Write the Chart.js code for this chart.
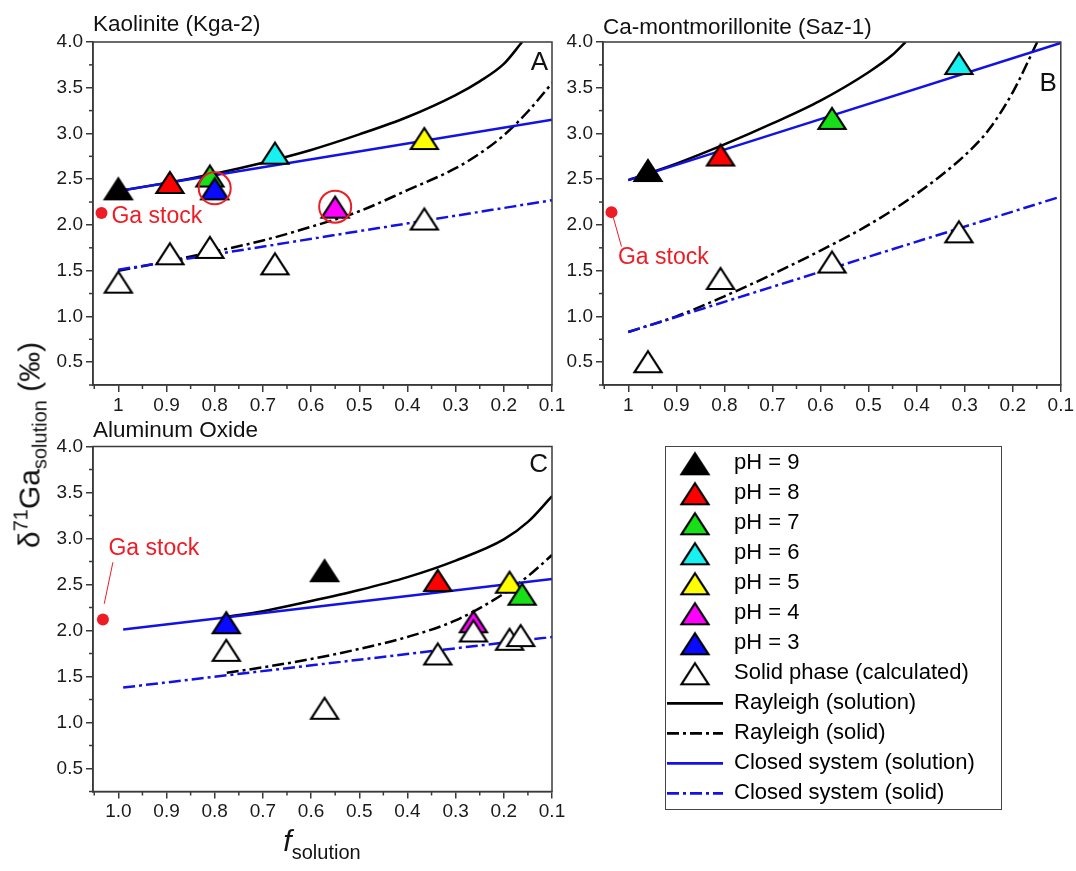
<!DOCTYPE html>
<html>
<head>
<meta charset="utf-8">
<script src="https://cdn.jsdelivr.net/npm/chart.js@4.4.1/dist/chart.umd.min.js"></script>
<style>
  body { margin: 0; background: #fff; }
  #page { position: relative; width: 1076px; height: 871px; overflow: hidden;
          font-family: Arial, "Liberation Sans", sans-serif; color: #111; }
  #page canvas { position: absolute; }
  #yTitle { position: absolute; left: 30px; top: 445px; transform: translate(-50%, -50%) rotate(-90deg);
            white-space: nowrap; font-size: 30px; line-height: 1; }
  #yTitle sup { font-size: 20px; vertical-align: 12px; line-height: 1; }
  #yTitle sub { font-size: 20px; vertical-align: -7px; line-height: 1; }
  #xTitle { position: absolute; left: 222px; top: 826px; width: 200px; text-align: center;
            white-space: nowrap; font-size: 30px; line-height: 1; }
  #xTitle sub { font-size: 20px; vertical-align: -8px; font-style: normal; }
  #legendFrame { position: absolute; left: 665px; top: 446px; width: 337px; height: 364px;
                 border: 1.5px solid #444; box-sizing: border-box; }
</style>
</head>
<body>
<div id="page">
  <canvas id="panelA" width="580" height="430" style="left:0;top:0"></canvas>
  <canvas id="panelB" width="536" height="430" style="left:540px;top:0"></canvas>
  <canvas id="panelC" width="580" height="420" style="left:0;top:410px"></canvas>
  <div id="legendFrame"></div>
  <canvas id="legendCanvas" width="700" height="400" style="left:659px;top:440px"></canvas>
  <div id="yTitle">δ<sup>71</sup>Ga<sub>solution</sub> (‰)</div>
  <div id="xTitle"><i>f</i><sub>solution</sub></div>
</div>
<script>
// ---- data ------------------------------------------------------------
// pH order used in every per-panel array: 9, 8, 7, 6, 5, 4, 3 (null = not measured)
var phLabels = ['pH = 9', 'pH = 8', 'pH = 7', 'pH = 6', 'pH = 5', 'pH = 4', 'pH = 3'];
var phColors = ['#000000', '#ff0000', '#18e018', '#19f0f0', '#ffff00', '#ff00ff', '#0a0aff'];

// Kaolinite (Kga-2)
var kgaPhF = [1.00, 0.893, 0.81, 0.675, 0.365, 0.55, 0.80];
var kgaPhD = [2.40, 2.47, 2.54, 2.79, 2.95, 2.20, 2.40];
var kgaSolidF = [1.00, 0.893, 0.81, 0.675, 0.365];
var kgaSolidD = [1.38, 1.69, 1.76, 1.58, 2.07];
var kgaCircleF = [0.80, 0.55];
var kgaCircleD = [2.40, 2.20];
var kgaStock = [1.035, 2.13];
var kgaRayF = [1.0, 0.9, 0.8, 0.7, 0.6, 0.5, 0.4, 0.3, 0.25, 0.2, 0.162];
var kgaRaySol = [2.37, 2.46, 2.56, 2.68, 2.82, 2.99, 3.18, 3.42, 3.57, 3.76, 4.0];
var kgaRaySolidF = [1.0, 0.9, 0.8, 0.7, 0.6, 0.5, 0.4, 0.3, 0.25, 0.2, 0.15, 0.1];
var kgaRaySolid = [1.50, 1.60, 1.71, 1.83, 1.98, 2.15, 2.38, 2.62, 2.78, 2.98, 3.24, 3.55];
var kgaClosedF = [1.0, 0.1];
var kgaClosedSol = [2.37, 3.15];
var kgaClosedSolid = [1.51, 2.27];

// Ca-montmorillonite (Saz-1)
var sazPhF = [0.959, 0.808, 0.576, 0.312, null, null, null];
var sazPhD = [2.60, 2.77, 3.17, 3.77, null, null, null];
var sazSolidF = [0.959, 0.808, 0.576, 0.312];
var sazSolidD = [0.51, 1.42, 1.60, 1.93];
var sazStock = [1.035, 2.14];
var sazRayF = [1.0, 0.9, 0.8, 0.7, 0.6, 0.5, 0.45, 0.423];
var sazRaySol = [2.49, 2.67, 2.88, 3.11, 3.36, 3.67, 3.86, 4.0];
var sazRaySolidF = [1.0, 0.9, 0.8, 0.7, 0.6, 0.5, 0.4, 0.3, 0.25, 0.2, 0.149];
var sazRaySolid = [0.83, 1.00, 1.22, 1.46, 1.72, 2.00, 2.34, 2.76, 3.04, 3.45, 4.0];
var sazClosedF = [1.0, 0.1];
var sazClosedSol = [2.49, 3.99];
var sazClosedSolid = [0.83, 2.31];

// Aluminum Oxide
var aloPhF = [0.572, 0.337, 0.162, null, 0.188, 0.263, 0.776];
var aloPhD = [2.655, 2.55, 2.40, null, 2.53, 2.10, 2.09];
var aloSolidF = [0.776, 0.572, 0.337, 0.263, 0.188, 0.165];
var aloSolidD = [1.79, 1.16, 1.75, 2.00, 1.91, 1.95];
var aloStock = [1.032, 2.12];
var aloRayF = [0.775, 0.7, 0.6, 0.5, 0.4, 0.3, 0.2, 0.15, 0.1];
var aloRaySol = [2.15, 2.21, 2.32, 2.44, 2.58, 2.76, 2.99, 3.18, 3.46];
var aloRaySolid = [1.54, 1.60, 1.69, 1.80, 1.93, 2.11, 2.40, 2.59, 2.82];
var aloClosedF = [0.99, 0.1];
var aloClosedSol = [2.01, 2.56];
var aloClosedSolid = [1.38, 1.93];

// ---- styling -----------------------------------------------------------
Chart.defaults.font.family = 'Arial, "Liberation Sans", sans-serif';
Chart.defaults.color = '#1a1a1a';

var axisColor = '#3a3a3a';
var lineBlue = '#1212e6';
var stockRed = '#ee1c24';
var dashDot = [12, 4, 3, 4];
var drawOrder = [6, 5, 2, 4, 3, 1, 0]; // which pH sits on top when markers overlap

function makeTriangle(fill) {
  var c = document.createElement('canvas');
  c.width = 34; c.height = 30;
  var g = c.getContext('2d');
  g.beginPath();
  g.moveTo(17, 5);
  g.lineTo(30.5, 26);
  g.lineTo(3.5, 26);
  g.closePath();
  g.fillStyle = fill;
  g.fill();
  g.lineWidth = 2.2;
  g.strokeStyle = '#000';
  g.stroke();
  return c;
}
var triangles = phColors.map(makeTriangle);
var openTriangle = makeTriangle('#ffffff');

function xy(fs, ds) {
  var out = [];
  fs.forEach(function(f, i) { if (f != null && ds[i] != null) out.push({x: f, y: ds[i]}); });
  return out;
}

function curve(label, fs, ds, color, dash) {
  return {
    label: label, data: xy(fs, ds), showLine: true,
    borderColor: color, borderWidth: 2.5, borderDash: dash,
    pointRadius: 0, cubicInterpolationMode: 'monotone', fill: false
  };
}

function panelDatasets(p) {
  var sets = [];
  if (p.circleF) {
    sets.push({label: 'circled', data: xy(p.circleF, p.circleD), pointStyle: 'circle', pointRadius: 16,
               borderColor: stockRed, borderWidth: 2, backgroundColor: 'rgba(0,0,0,0)'});
  }
  sets.push({label: 'Ga stock', data: [{x: p.stock[0], y: p.stock[1]}], pointStyle: 'circle',
             pointRadius: 6, backgroundColor: stockRed, borderColor: stockRed, borderWidth: 0});
  sets.push({label: 'Solid phase (calculated)', data: xy(p.solidF, p.solidD), pointStyle: openTriangle, pointRadius: 14});
  drawOrder.forEach(function(i) {
    if (p.phF[i] == null) return;
    sets.push({label: phLabels[i], data: [{x: p.phF[i], y: p.phD[i]}], pointStyle: triangles[i], pointRadius: 14});
  });
  sets.push(curve('Closed system (solution)', p.closedF, p.closedSol, lineBlue, []));
  sets.push(curve('Closed system (solid)', p.closedF, p.closedSolid, lineBlue, dashDot));
  sets.push(curve('Rayleigh (solution)', p.rayF, p.raySol, '#000', []));
  sets.push(curve('Rayleigh (solid)', p.raySolidF, p.raySolid, '#000', dashDot));
  return sets;
}

// box around the plot area
var plotFrame = {
  id: 'plotFrame',
  afterDraw: function(chart) {
    var a = chart.chartArea, ctx = chart.ctx;
    ctx.save();
    ctx.strokeStyle = axisColor;
    ctx.lineWidth = 1.5;
    ctx.strokeRect(a.left, a.top, a.right - a.left, a.bottom - a.top);
    ctx.restore();
  }
};

// short ticks halfway between the labelled ones
var minorTicks = {
  id: 'minorTicks',
  afterDraw: function(chart) {
    var ctx = chart.ctx, a = chart.chartArea;
    ctx.save();
    ctx.strokeStyle = axisColor;
    ctx.lineWidth = 1.5;
    ['x', 'y'].forEach(function(id) {
      var s = chart.scales[id];
      var vals = s.ticks.map(function(t) { return t.value; }).sort(function(a, b) { return a - b; });
      var half = (vals[1] - vals[0]) / 2;
      for (var v = vals[0] - half; v <= s.max + 1e-9; v += 2 * half) {
        if (v < s.min - 1e-9) continue;
        var px = s.getPixelForValue(v);
        ctx.beginPath();
        if (id === 'x') { ctx.moveTo(px, a.bottom); ctx.lineTo(px, a.bottom + 4); }
        else { ctx.moveTo(a.left - 4, px); ctx.lineTo(a.left, px); }
        ctx.stroke();
      }
    });
    ctx.restore();
  }
};

// panel letter and the "Ga stock" note
var panelNotes = {
  id: 'panelNotes',
  afterDatasetsDraw: function(chart, args, opts) {
    var ctx = chart.ctx, a = chart.chartArea;
    var px = chart.scales.x.getPixelForValue(opts.stockF);
    var py = chart.scales.y.getPixelForValue(opts.stockD);
    ctx.save();
    ctx.font = '26px Arial, "Liberation Sans", sans-serif';
    ctx.fillStyle = '#111';
    ctx.textAlign = 'right';
    ctx.textBaseline = 'alphabetic';
    ctx.fillText(opts.letter, a.right - 4, a.top + opts.letterBase);

    ctx.font = '23px Arial, "Liberation Sans", sans-serif';
    ctx.fillStyle = stockRed;
    ctx.textAlign = 'left';
    ctx.textBaseline = 'middle';
    ctx.fillText('Ga stock', px + opts.labelDx, py + opts.labelDy);
    if (opts.leader) {
      ctx.strokeStyle = stockRed;
      ctx.lineWidth = 1;
      ctx.beginPath();
      ctx.moveTo(px + opts.leader[0], py + opts.leader[1]);
      ctx.lineTo(px + opts.leader[2], py + opts.leader[3]);
      ctx.stroke();
    }
    ctx.restore();
  }
};

function buildPanel(id, p, look) {
  return new Chart(document.getElementById(id), {
    type: 'scatter',
    data: { datasets: panelDatasets(p) },
    options: {
      responsive: false,
      animation: false,
      events: [],
      layout: { padding: { top: look.padTop, right: look.padRight, bottom: 0, left: 0 } },
      plugins: {
        legend: { display: false },
        tooltip: { enabled: false },
        title: {
          display: true, text: look.title, align: 'start', fullSize: false, color: '#111',
          font: { size: 22.5, weight: 'normal' }, padding: { top: 0, bottom: look.titleGap }
        },
        panelNotes: {
          letter: look.letter, letterBase: look.letterBase, stockF: p.stock[0], stockD: p.stock[1],
          labelDx: look.labelDx, labelDy: look.labelDy, leader: look.leader
        }
      },
      scales: {
        x: {
          type: 'linear', reverse: true, min: 0.1, max: 1.0526,
          ticks: {
            stepSize: 0.1, includeBounds: false, autoSkip: false, maxRotation: 0, padding: 2,
            font: { size: 19 }, color: '#1a1a1a',
            callback: function(v) { return (Math.abs(v - 1) < 1e-9 && look.shortOne) ? '1' : v.toFixed(1); }
          },
          grid: { drawOnChartArea: false, tickLength: 7, color: axisColor, lineWidth: 1.5 },
          border: { color: axisColor, width: 1.5 },
          afterFit: function(s) { s.height = look.xAxisH; }
        },
        y: {
          min: 0.25, max: 4.0,
          ticks: {
            stepSize: 0.5, includeBounds: false, padding: 3, font: { size: 19 }, color: '#1a1a1a',
            callback: function(v) { return v.toFixed(1); }
          },
          grid: { drawOnChartArea: false, tickLength: 7, color: axisColor, lineWidth: 1.5 },
          border: { color: axisColor, width: 1.5 },
          afterFit: function(s) { s.width = look.yAxisW; }
        }
      }
    },
    plugins: [plotFrame, minorTicks, panelNotes]
  });
}

buildPanel('panelA', {
  phF: kgaPhF, phD: kgaPhD, solidF: kgaSolidF, solidD: kgaSolidD,
  circleF: kgaCircleF, circleD: kgaCircleD, stock: kgaStock,
  rayF: kgaRayF, raySol: kgaRaySol, raySolidF: kgaRaySolidF, raySolid: kgaRaySolid,
  closedF: kgaClosedF, closedSol: kgaClosedSol, closedSolid: kgaClosedSolid
}, {
  title: 'Kaolinite (Kga-2)', letter: 'A', letterBase: 28, shortOne: true,
  padTop: 11, titleGap: 4, padRight: 28, yAxisW: 93, xAxisH: 45,
  labelDx: 10, labelDy: 3.5, leader: null
});

buildPanel('panelB', {
  phF: sazPhF, phD: sazPhD, solidF: sazSolidF, solidD: sazSolidD, stock: sazStock,
  rayF: sazRayF, raySol: sazRaySol, raySolidF: sazRaySolidF, raySolid: sazRaySolid,
  closedF: sazClosedF, closedSol: sazClosedSol, closedSolid: sazClosedSolid
}, {
  title: 'Ca-montmorillonite (Saz-1)', letter: 'B', letterBase: 49, shortOne: true,
  padTop: 14, titleGap: 1, padRight: 14, yAxisW: 63, xAxisH: 45,
  labelDx: 6.5, labelDy: 46, leader: [1.6, 4.4, 10, 34.4]
});

buildPanel('panelC', {
  phF: aloPhF, phD: aloPhD, solidF: aloSolidF, solidD: aloSolidD, stock: aloStock,
  rayF: aloRayF, raySol: aloRaySol, raySolidF: aloRayF, raySolid: aloRaySolid,
  closedF: aloClosedF, closedSol: aloClosedSol, closedSolid: aloClosedSolid
}, {
  title: 'Aluminum Oxide', letter: 'C', letterBase: 25, shortOne: false,
  padTop: 7.5, titleGap: 2, padRight: 28, yAxisW: 93, xAxisH: 38.5,
  labelDx: 5.5, labelDy: -70.5, leader: [10, -57.3, 1.3, -15.7]
});

// legend box
var legendItems = phLabels.map(function(t, i) {
  return { text: t, pointStyle: triangles[i], fillStyle: phColors[i], strokeStyle: '#000', lineWidth: 2, hidden: false };
}).concat([
  { text: 'Solid phase (calculated)', pointStyle: openTriangle, fillStyle: '#fff', strokeStyle: '#000', lineWidth: 2, hidden: false },
  { text: 'Rayleigh (solution)', pointStyle: 'line', strokeStyle: '#000', lineWidth: 2.8, lineDash: [], hidden: false },
  { text: 'Rayleigh (solid)', pointStyle: 'line', strokeStyle: '#000', lineWidth: 2.8, lineDash: dashDot, hidden: false },
  { text: 'Closed system (solution)', pointStyle: 'line', strokeStyle: lineBlue, lineWidth: 2.8, lineDash: [], hidden: false },
  { text: 'Closed system (solid)', pointStyle: 'line', strokeStyle: lineBlue, lineWidth: 2.8, lineDash: dashDot, hidden: false }
]);

new Chart(document.getElementById('legendCanvas'), {
  type: 'scatter',
  data: { datasets: [] },
  options: {
    responsive: false,
    animation: false,
    events: [],
    layout: { padding: { top: 4.3, left: 0 } },
    scales: { x: { display: false }, y: { display: false } },
    plugins: {
      tooltip: { enabled: false },
      legend: {
        position: 'left', align: 'start',
        labels: {
          usePointStyle: true, pointStyleWidth: 56, padding: 8, color: '#111',
          font: { size: 22 },
          generateLabels: function() { return legendItems; }
        }
      }
    }
  }
});
</script>
</body>
</html>
